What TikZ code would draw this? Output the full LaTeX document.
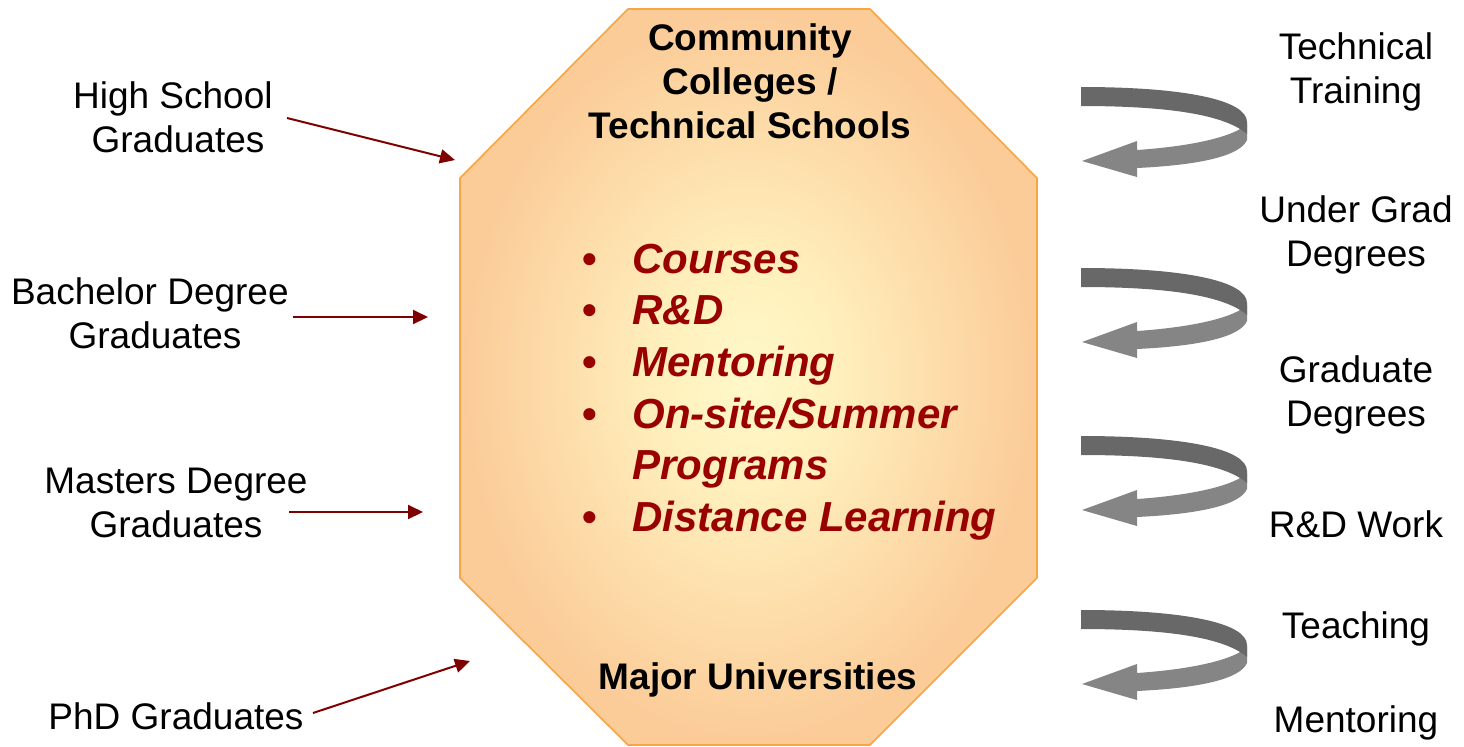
\documentclass[tikz,border=0pt]{standalone}
\usepackage{fontspec}
\setmainfont{Liberation Sans}
\usetikzlibrary{arrows.meta}
\definecolor{darkred}{HTML}{7F0000}
\definecolor{listred}{HTML}{990000}
\definecolor{octborder}{HTML}{F7A545}
\definecolor{octin}{HTML}{FFF8C8}
\definecolor{octmid}{HTML}{FFF1BE}
\definecolor{octout}{HTML}{FBCB98}
\definecolor{ribbondark}{HTML}{686868}
\definecolor{ribbonlight}{HTML}{858585}
\pgfdeclareradialshading{octshade}{\pgfpoint{0bp}{0bp}}{%
  color(0bp)=(octin); color(7bp)=(octmid); color(25bp)=(octout); color(50bp)=(octout)}
\tikzset{
  lbl/.style={align=center, font=\fontsize{18.5}{22}\selectfont, inner sep=0pt},
  title/.style={align=center, font=\fontsize{18.5}{22}\selectfont\bfseries, inner sep=0pt},
  inarrow/.style={draw=darkred, line width=1pt, -{Triangle[length=7.5pt,width=7pt]}},
}
\newcommand\turnarrow[1]{%
  \begin{scope}[shift={(0,#1)}]
    \fill[ribbonlight] (1247,124) -- (1247,140) .. controls (1240,156) and (1200,165) .. (1137,168)
      -- (1137,177) -- (1082,161) -- (1137,141) -- (1137,150)
      .. controls (1195,146) and (1235,136) .. (1247,124) -- cycle;
    \fill[ribbondark] (1081,87) .. controls (1185,87) and (1247,100) .. (1247,122) -- (1247,134)
      .. controls (1225,115) and (1170,106) .. (1081,106) -- cycle;
  \end{scope}}
\newcommand\bul{\makebox[25pt][l]{\upshape•}}
\newcommand\tsp{\hspace*{5.1pt}}
\begin{document}
\begin{tikzpicture}[x=0.5pt,y=-0.5pt]
\useasboundingbox (0,0) rectangle (1464,746);
% octagon
\coordinate (o1) at (628,9);
\coordinate (o2) at (870,9);
\coordinate (o3) at (1037,178);
\coordinate (o4) at (1037,578);
\coordinate (o5) at (870,745);
\coordinate (o6) at (628,745);
\coordinate (o7) at (460,578);
\coordinate (o8) at (460,178);
\shade[shading=octshade] (o1) -- (o2) -- (o3) -- (o4) -- (o5) -- (o6) -- (o7) -- (o8) -- cycle;
\draw[octborder, line width=0.8pt, line join=miter] (o1) -- (o2) -- (o3) -- (o4) -- (o5) -- (o6) -- (o7) -- (o8) -- cycle;

\node[title] (cc) at (750,81) {Community\\Colleges /\\Technical Schools};
\node[title] (mu) at (758,680) {Major Universities};

\node[anchor=west, align=left, inner sep=0pt, text=listred,
      font=\fontsize{21}{25.8}\selectfont\bfseries] (list) at (582,392)
 {\bul\itshape Courses\\
  \bul\itshape R\&D\\
  \bul\itshape Mentoring\\
  \bul\itshape On-site/Summer\\
  \makebox[25pt][l]{}\itshape Programs\\
  \bul\itshape Distance Learning};

% left labels
\node[lbl] (hs) at (178,117) {High School\tsp\\Graduates};
\node[lbl] (bd) at (155,313) {Bachelor Degree\tsp\\Graduates};
\node[lbl] (md) at (176,503) {Masters Degree\\Graduates};
\node[lbl] (phd) at (176,716) {PhD Graduates};

\coordinate (a1s) at (287,118); \coordinate (a1e) at (455,160);
\coordinate (a2s) at (293,317); \coordinate (a2e) at (428,317);
\coordinate (a3s) at (289,512); \coordinate (a3e) at (423,512);
\coordinate (a4s) at (313,713); \coordinate (a4e) at (470,661);
\draw[inarrow] (a1s) -- (a1e);
\draw[inarrow] (a2s) -- (a2e);
\draw[inarrow] (a3s) -- (a3e);
\draw[inarrow] (a4s) -- (a4e);

% right curved arrows
\turnarrow{0}
\turnarrow{181}
\turnarrow{349}
\turnarrow{523}

% right labels
\node[lbl] (tt) at (1356,72) {Technical\\Training};
\node[lbl] (ug) at (1356,235) {Under Grad\\Degrees};
\node[lbl] (gd) at (1356,395) {Graduate\\Degrees};
\node[lbl] (rd) at (1356,524) {R\&D Work};
\node[lbl] (te) at (1356,629) {Teaching};
\node[lbl] (me) at (1356,723) {Mentoring};
\end{tikzpicture}
\end{document}
